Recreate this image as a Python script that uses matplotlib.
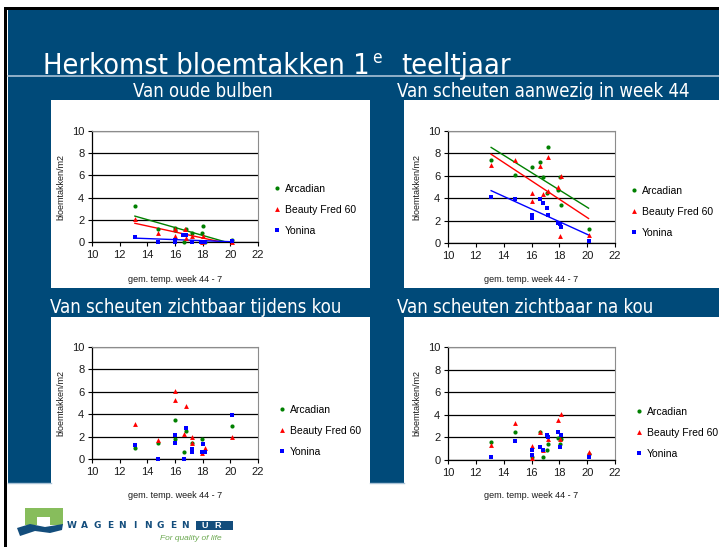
import matplotlib
matplotlib.use("Agg")
import matplotlib.pyplot as plt
import matplotlib.font_manager as fm
from matplotlib.patches import Rectangle, Polygon
from matplotlib.lines import Line2D
import numpy as np

W, H = 719, 547

# ---- data ----
series_names = ["Arcadian", "Beauty Fred 60", "Yonina"]

# Van oude bulben
p1_arc_x = [13.1, 14.8, 16.0, 16.0, 16.65, 16.8, 17.2, 17.95, 18.05, 18.2, 20.1]
p1_arc_y = [3.2, 1.15, 1.3, 1.1, 0.0, 1.15, 0.85, 0.85, 1.4, 0.0, 0.2]
p1_bf_x = [13.1, 14.8, 16.0, 16.0, 16.7, 16.8, 17.2, 17.95, 18.05, 20.1]
p1_bf_y = [2.05, 0.8, 1.2, 0.55, 1.15, 0.35, 0.55, 0.0, 0.55, 0.0]
p1_yon_x = [13.1, 14.8, 16.0, 16.0, 16.6, 16.8, 17.2, 17.9, 18.05, 18.2, 20.1]
p1_yon_y = [0.45, 0.0, 0.2, 0.0, 0.6, 0.6, 0.0, 0.0, 0.0, 0.0, 0.1]

# Van scheuten aanwezig in week 44
p2_arc_x = [13.1, 14.8, 16.0, 16.6, 16.8, 17.15, 17.1, 17.9, 18.05, 18.15, 20.1]
p2_arc_y = [7.45, 6.05, 6.8, 7.2, 5.85, 8.55, 4.5, 4.75, 5.85, 3.35, 1.25]
p2_bf_x = [13.1, 14.8, 16.0, 16.0, 16.6, 16.8, 17.15, 17.15, 17.9, 18.15, 18.05, 20.1]
p2_bf_y = [7.0, 7.4, 4.45, 3.75, 6.85, 4.4, 7.7, 4.65, 5.0, 6.0, 0.6, 0.75]
p2_yon_x = [13.1, 14.8, 16.0, 16.0, 16.6, 16.8, 17.1, 17.15, 17.9, 18.05, 18.15, 20.1]
p2_yon_y = [4.15, 3.9, 2.5, 2.2, 3.9, 3.55, 3.1, 2.5, 1.8, 1.7, 1.4, 0.2]

# Van scheuten zichtbaar tijdens kou
p3_arc_x = [13.1, 14.8, 16.0, 16.0, 16.65, 16.8, 17.2, 17.95, 20.1]
p3_arc_y = [1.0, 1.4, 3.45, 1.8, 0.6, 2.5, 1.4, 1.75, 2.95]
p3_bf_x = [13.1, 14.8, 16.0, 16.0, 16.65, 16.8, 17.2, 17.2, 17.95, 18.2, 20.1]
p3_bf_y = [3.15, 1.7, 6.05, 5.25, 2.2, 4.7, 1.95, 1.4, 0.55, 1.0, 1.95]
p3_yon_x = [13.1, 14.8, 16.0, 16.0, 16.65, 16.8, 17.2, 17.2, 17.95, 18.05, 18.2, 20.1]
p3_yon_y = [1.25, 0.0, 2.1, 1.4, 0.0, 2.8, 0.85, 0.6, 0.6, 1.35, 0.6, 3.9]

# Van scheuten zichtbaar na kou
p4_arc_x = [13.1, 14.8, 16.0, 16.6, 16.8, 17.1, 17.15, 17.9, 18.05, 18.15, 20.1]
p4_arc_y = [1.55, 2.5, 0.3, 2.5, 0.25, 0.85, 1.4, 1.95, 1.4, 1.9, 0.55]
p4_bf_x = [13.1, 14.8, 16.0, 16.0, 16.6, 16.8, 17.15, 17.9, 18.05, 18.15, 20.1]
p4_bf_y = [1.35, 3.3, 1.2, 0.2, 2.5, 0.85, 1.9, 3.55, 1.9, 4.05, 0.7]
p4_yon_x = [13.1, 14.8, 16.0, 16.0, 16.6, 16.8, 17.1, 17.15, 17.9, 18.05, 18.15, 20.1]
p4_yon_y = [0.3, 1.7, 0.9, 0.45, 1.15, 0.85, 2.2, 2.0, 2.5, 1.15, 2.2, 0.3]

panel_titles = ["Van oude bulben", "Van scheuten aanwezig in week 44",
                "Van scheuten zichtbaar tijdens kou", "Van scheuten zichtbaar na kou"]
title_parts = ["Herkomst bloemtakken 1", "e", "teeltjaar"]
xlabel = "gem. temp. week 44 - 7"
ylabel = "bloemtakken/m2"

colors = ["#008000", "#ff0000", "#0000ff"]
markers = ["o", "^", "s"]

BLUE = "#004a79"
LIGHT = "#a9c2d6"


def find_narrow():
    found = []
    for f in fm.fontManager.ttflist:
        n = (f.name + " " + f.fname).lower()
        st = str(f.stretch).lower()
        if ("narrow" in n or "condensed" in n or "condensed" in st) and f.style == "normal" \
                and "italic" not in n and "oblique" not in n:
            w = f.weight if isinstance(f.weight, int) else fm.weight_dict.get(f.weight, 400)
            found.append((abs(w - 380), f.fname))
    found.sort()
    return found[0][1] if found else None


narrow_file = find_narrow()


def narrow_prop(size):
    if narrow_file:
        return fm.FontProperties(fname=narrow_file, size=size)
    return fm.FontProperties(family="Liberation Sans", size=size)


def fx(x):
    return x / W


def fy(y):
    return 1 - y / H


def rect(x0, y0, x1, y1, color, z=0):
    fig.add_artist(Rectangle((fx(x0), fy(y1)), fx(x1) - fx(x0), fy(y0) - fy(y1),
                             transform=fig.transFigure, color=color, lw=0, zorder=z))


def fitted_size(s, target_w, base=20):
    t = fig.text(0, 0, s, fontproperties=narrow_prop(base))
    w = t.get_window_extent(fig.canvas.get_renderer()).width
    t.remove()
    return base * target_w / w


plt.rcParams["font.family"] = ["Liberation Sans", "DejaVu Sans"]
fig = plt.figure(figsize=(W / 100, H / 100), dpi=100)
fig.patch.set_facecolor("white")

# slide background
rect(8, 10, 719, 483, BLUE)
rect(51, 100, 370, 288, "white", 1)
rect(404, 100, 719, 288, "white", 1)
rect(51, 317, 370, 547, "white", 1)
rect(404, 317, 719, 547, "white", 1)
rect(4, 7, 719, 9.5, "black", 2)
rect(4, 7, 7, 547, "black", 2)
fig.add_artist(Line2D([fx(8), 1], [fy(76), fy(76)], transform=fig.transFigure,
                      color=LIGHT, lw=1.2, zorder=2))
for a, b in [(8, 51), (370, 404)]:
    fig.add_artist(Line2D([fx(a), fx(b)], [fy(483), fy(483)], transform=fig.transFigure,
                          color=LIGHT, lw=1, zorder=2))

# title in three pieces (superscript e)
ts = fitted_size(title_parts[0], 326)
fig.text(fx(43), fy(74), title_parts[0], color="white", fontproperties=narrow_prop(ts),
         va="baseline", ha="left", zorder=3)
fig.text(fx(372), fy(63), title_parts[1], color="white", fontproperties=narrow_prop(ts * 0.6),
         va="baseline", ha="left", zorder=3)
fig.text(fx(401), fy(74), title_parts[2], color="white", fontproperties=narrow_prop(ts),
         va="baseline", ha="left", zorder=3)

ss = fitted_size(panel_titles[1], 293)
sub_pos = [(133, 97), (397, 97), (50, 313), (397, 313)]
for (sx, sy), t in zip(sub_pos, panel_titles):
    fig.text(fx(sx), fy(sy), t, color="white", fontproperties=narrow_prop(ss),
             va="baseline", ha="left", zorder=3)

# axes boxes: left, right, top, bottom in pixels
boxes = [(92, 258, 131, 242), (448, 615, 131, 243), (92, 258, 347, 459), (448, 615, 347, 460)]
legend_pos = [(268, 210), (625, 212), (273, 431), (630, 433)]
xlabel_y = [279, 279, 495, 495]

panels = [
    [(p1_arc_x, p1_arc_y), (p1_bf_x, p1_bf_y), (p1_yon_x, p1_yon_y)],
    [(p2_arc_x, p2_arc_y), (p2_bf_x, p2_bf_y), (p2_yon_x, p2_yon_y)],
    [(p3_arc_x, p3_arc_y), (p3_bf_x, p3_bf_y), (p3_yon_x, p3_yon_y)],
    [(p4_arc_x, p4_arc_y), (p4_bf_x, p4_bf_y), (p4_yon_x, p4_yon_y)],
]
trend = [True, True, False, False]

for i, (l, r, t, b) in enumerate(boxes):
    ax = fig.add_axes([fx(l), fy(b), fx(r) - fx(l), fy(t) - fy(b)], zorder=5)
    ax.set_facecolor("white")
    for j, (xs, ys) in enumerate(panels[i]):
        ax.plot(xs, ys, ls="none", marker=markers[j], color=colors[j],
                ms=3.5 if j else 3, mew=0, label=series_names[j], clip_on=False, zorder=4)
        if trend[i]:
            k, c = np.polyfit(xs, ys, 1)
            tx = np.array([min(xs), max(xs)])
            ax.plot(tx, k * tx + c, color=colors[j], lw=1, zorder=3)
    ax.set_xlim(10, 22)
    ax.set_ylim(0, 10)
    ax.set_xticks(range(10, 23, 2))
    ax.set_yticks(range(0, 11, 2))
    ax.grid(axis="y", color="black", lw=0.9)
    ax.set_axisbelow(True)
    for s in ["top", "right"]:
        ax.spines[s].set_color("#8c8c8c")
        ax.spines[s].set_linewidth(0.8)
    for s in ["left", "bottom"]:
        ax.spines[s].set_color("black")
        ax.spines[s].set_linewidth(0.9)
    ax.tick_params(direction="out", length=3, width=0.8, labelsize=8,
                   labelcolor="#1a1a1a", pad=2.5)
    ax.set_ylabel(ylabel, fontsize=6.5, color="#1a1a1a", labelpad=5)
    fig.text(fx((l + r) / 2), fy(xlabel_y[i]), xlabel, fontsize=6.5, color="#1a1a1a",
             ha="center", va="center")
    lx, ly = legend_pos[i]
    ax.legend(loc="center left", bbox_to_anchor=(fx(lx), fy(ly)), bbox_transform=fig.transFigure,
              frameon=False, fontsize=7.5, handlelength=0.8, handletextpad=0.35,
              labelspacing=1.05, borderpad=0, markerscale=1.0)

# logo
G = "#87bd5c"
DB = "#134d7c"
fig.add_artist(Polygon([(fx(25), fy(525)), (fx(25), fy(508)), (fx(63), fy(508)), (fx(63), fy(525)),
                        (fx(50), fy(525)), (fx(50), fy(517)), (fx(37), fy(517)), (fx(37), fy(525))],
                       closed=True, transform=fig.transFigure, color=G, lw=0, zorder=3))
fig.add_artist(Polygon([(fx(17), fy(528)), (fx(30), fy(524)), (fx(45), fy(527)), (fx(63), fy(524)),
                        (fx(62), fy(530)), (fx(50), fy(533)), (fx(35), fy(531)), (fx(20), fy(536))],
                       closed=True, transform=fig.transFigure, color=DB, lw=0, zorder=3))
for k, ch in enumerate("WAGENINGEN"):
    fig.text(fx(72 + k * 12.6), fy(525.5), ch, color=DB, fontsize=6.5, weight="bold",
             ha="center", va="center", family=["DejaVu Sans"], zorder=3)
rect(196, 521, 233, 530, DB, 3)
fig.text(fx(205), fy(525.5), "U", color="white", fontsize=6.5, weight="bold",
         ha="center", va="center", zorder=4)
fig.text(fx(218), fy(525.5), "R", color="white", fontsize=6.5, weight="bold",
         ha="center", va="center", zorder=4)
fig.text(fx(160), fy(538), "For quality of life", color="#6aa84f", fontsize=6,
         style="italic", ha="left", va="center", zorder=3)

fig.savefig("out.png", dpi=100)
